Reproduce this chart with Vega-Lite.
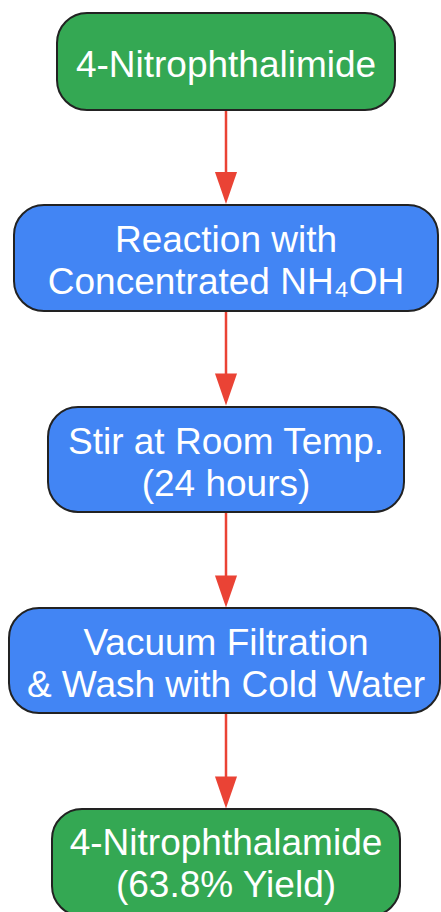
{
  "$schema": "https://vega.github.io/schema/vega-lite/v6.json",
  "width": 441,
  "height": 912,
  "padding": 0,
  "autosize": {"type": "fit", "contains": "padding"},
  "background": "white",
  "config": {"view": {"stroke": null}},
  "datasets": {
    "nodes": [
      {"step": 1, "label": ["4-Nitrophthalimide"], "kind": "Start", "x0": 57, "x1": 395, "top": 13, "bottom": 110, "baseline": 77, "cx": 226},
      {"step": 2, "label": ["Reaction with", "Concentrated NH₄OH"], "kind": "Process", "x0": 14, "x1": 438, "top": 205, "bottom": 311, "baseline": 252, "cx": 226},
      {"step": 3, "label": ["Stir at Room Temp.", "(24 hours)"], "kind": "Process", "x0": 48, "x1": 404, "top": 407, "bottom": 512, "baseline": 453.5, "cx": 226},
      {"step": 4, "label": ["Vacuum Filtration", "& Wash with Cold Water"], "kind": "Process", "x0": 9, "x1": 440, "top": 608, "bottom": 713, "baseline": 654.5, "cx": 226},
      {"step": 5, "label": ["4-Nitrophthalamide", "(63.8% Yield)"], "kind": "End", "x0": 52, "x1": 400, "top": 809, "bottom": 916, "baseline": 855, "cx": 226}
    ],
    "edges": [
      {"from": 1, "to": 2, "x": 226, "start": 110, "end": 176, "head": 188},
      {"from": 2, "to": 3, "x": 226, "start": 311, "end": 378, "head": 389.5},
      {"from": 3, "to": 4, "x": 226, "start": 512, "end": 580, "head": 591.5},
      {"from": 4, "to": 5, "x": 226, "start": 713, "end": 781, "head": 792.5}
    ]
  },
  "layer": [
    {
      "data": {"name": "edges"},
      "mark": {"type": "rule", "color": "#EA4335", "strokeWidth": 2.5, "clip": true},
      "encoding": {
        "x": {"field": "x", "type": "quantitative", "scale": {"domain": [0, 441], "nice": false, "zero": false}, "axis": null},
        "y": {"field": "start", "type": "quantitative", "scale": {"domain": [0, 912], "nice": false, "zero": false, "reverse": true}, "axis": null},
        "y2": {"field": "end"}
      }
    },
    {
      "data": {"name": "edges"},
      "mark": {"type": "point", "shape": "M-0.69,-1L0.69,-1L0,1Z", "filled": true, "color": "#EA4335", "opacity": 1, "size": 1024, "strokeWidth": 0, "clip": true},
      "encoding": {
        "x": {"field": "x", "type": "quantitative"},
        "y": {"field": "head", "type": "quantitative"}
      }
    },
    {
      "data": {"name": "nodes"},
      "mark": {"type": "rect", "cornerRadius": 30, "stroke": "#222222", "strokeWidth": 2, "clip": true},
      "encoding": {
        "x": {"field": "x0", "type": "quantitative"},
        "x2": {"field": "x1"},
        "y": {"field": "top", "type": "quantitative"},
        "y2": {"field": "bottom"},
        "color": {
          "field": "kind", "type": "nominal", "legend": null,
          "scale": {"domain": ["Start", "Process", "End"], "range": ["#34A853", "#4285F4", "#34A853"]}
        }
      }
    },
    {
      "data": {"name": "nodes"},
      "mark": {"type": "text", "font": "Liberation Sans", "fontSize": 37, "lineHeight": 42, "color": "white", "align": "center", "baseline": "alphabetic", "clip": true},
      "encoding": {
        "x": {"field": "cx", "type": "quantitative"},
        "y": {"field": "baseline", "type": "quantitative"},
        "text": {"field": "label"}
      }
    }
  ]
}
